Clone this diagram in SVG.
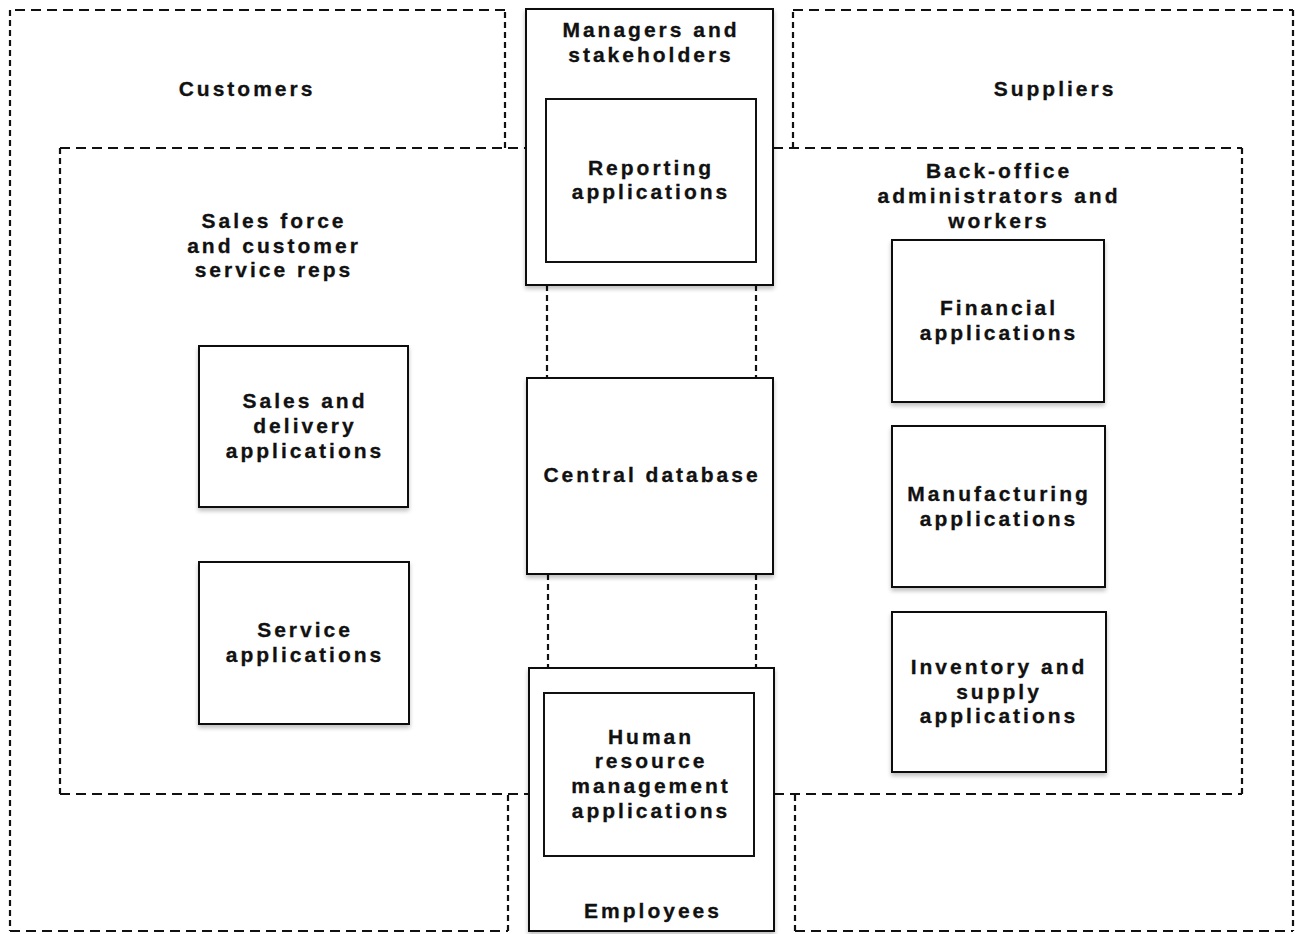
<svg xmlns="http://www.w3.org/2000/svg" width="1304" height="934" viewBox="0 0 1304 934">
<defs>
<filter id="sh" x="-10%" y="-10%" width="120%" height="130%">
<feGaussianBlur in="SourceAlpha" stdDeviation="2"/>
<feOffset dx="0" dy="3"/>
<feComponentTransfer><feFuncA type="linear" slope="0.25"/></feComponentTransfer>
<feMerge><feMergeNode/><feMergeNode in="SourceGraphic"/></feMerge>
</filter>
</defs>
<style>
.box{fill:#fff;stroke:#111;stroke-width:2;filter:url(#sh)}
.inner{fill:#fff;stroke:#111;stroke-width:2}
.dh{fill:none;stroke:#111;stroke-width:2.2;stroke-dasharray:10 6}
.dv{fill:none;stroke:#111;stroke-width:2.2;stroke-dasharray:6 4}
text{font-family:"Liberation Sans",Arial,sans-serif;font-weight:bold;font-size:21px;letter-spacing:3px;fill:#111;stroke:#111;stroke-width:0.3;text-anchor:middle}
</style>
<rect width="1304" height="934" fill="#fff"/>

<g id="customers-region">
<path class="dh" d="M505,10 L10,10"/>
<path class="dv" d="M505,148 L505,10"/>
<path class="dv" d="M10,10 L10,931"/>
<path class="dh" d="M10,931 L508,931"/>
<path class="dv" d="M508,931 L508,794"/>
<text x="247" y="96">Customers</text>
</g>

<g id="suppliers-region">
<path class="dh" d="M793,10 L1293,10"/>
<path class="dv" d="M793,148 L793,10"/>
<path class="dv" d="M1293,10 L1293,931"/>
<path class="dh" d="M795,931 L1293,931"/>
<path class="dv" d="M795,931 L795,794"/>
<text x="1055" y="96">Suppliers</text>
</g>

<g id="internal-region">
<path class="dh" d="M60,148 L526,148"/>
<path class="dh" d="M773,148 L1242,148"/>
<path class="dv" d="M60,148 L60,794"/>
<path class="dv" d="M1242,148 L1242,794"/>
<path class="dh" d="M60,794 L529,794"/>
<path class="dh" d="M774,794 L1242,794"/>
</g>

<g id="sales-force-label">
<text x="274" y="228">Sales force</text>
<text x="274" y="253">and customer</text>
<text x="274" y="277">service reps</text>
</g>

<g id="back-office-label">
<text x="999" y="178">Back-office</text>
<text x="999" y="203">administrators and</text>
<text x="999" y="228">workers</text>
</g>

<g id="connectors">
<path class="dv" d="M547,285 L547,378"/>
<path class="dv" d="M756,285 L756,378"/>
<path class="dv" d="M548,574 L548,668"/>
<path class="dv" d="M756,574 L756,668"/>
</g>

<g id="managers">
<rect class="box" x="526" y="9" width="247" height="276"/>
<text x="651" y="37">Managers and</text>
<text x="651" y="62">stakeholders</text>
</g>

<g id="reporting">
<rect class="inner" x="546" y="99" width="210" height="163"/>
<text x="651" y="175">Reporting</text>
<text x="651" y="199">applications</text>
</g>

<g id="central-database">
<rect class="box" x="527" y="378" width="246" height="196"/>
<text x="652" y="482">Central database</text>
</g>

<g id="employees">
<rect class="box" x="529" y="668" width="245" height="263"/>
<text x="653" y="918">Employees</text>
</g>

<g id="hr">
<rect class="inner" x="544" y="693" width="210" height="163"/>
<text x="651" y="744">Human</text>
<text x="651" y="768">resource</text>
<text x="651" y="793">management</text>
<text x="651" y="818">applications</text>
</g>

<g id="sales-delivery">
<rect class="box" x="199" y="346" width="209" height="161"/>
<text x="305" y="408">Sales and</text>
<text x="305" y="433">delivery</text>
<text x="305" y="458">applications</text>
</g>

<g id="service">
<rect class="box" x="199" y="562" width="210" height="162"/>
<text x="305" y="637">Service</text>
<text x="305" y="662">applications</text>
</g>

<g id="financial">
<rect class="box" x="892" y="240" width="212" height="162"/>
<text x="999" y="315">Financial</text>
<text x="999" y="340">applications</text>
</g>

<g id="manufacturing">
<rect class="box" x="892" y="426" width="213" height="161"/>
<text x="999" y="501">Manufacturing</text>
<text x="999" y="526">applications</text>
</g>

<g id="inventory">
<rect class="box" x="892" y="612" width="214" height="160"/>
<text x="999" y="674">Inventory and</text>
<text x="999" y="699">supply</text>
<text x="999" y="723">applications</text>
</g>
</svg>
